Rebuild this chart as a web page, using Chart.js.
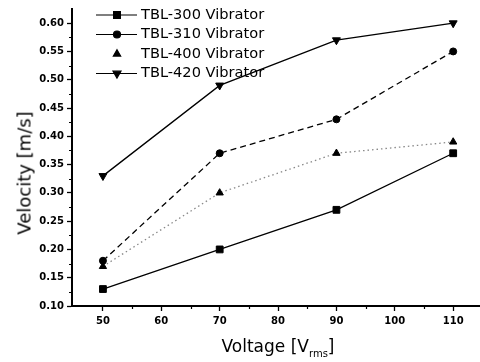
<!DOCTYPE html>
<html>
<head>
<meta charset="utf-8">
<script src="https://cdn.jsdelivr.net/npm/chart.js@4/dist/chart.umd.min.js"></script>
<style>
  html, body { margin: 0; padding: 0; background: #fff; }
  #wrap { position: relative; width: 480px; height: 362px; }
  #chart { position: absolute; left: 0; top: 0; }
  .ttl { position: absolute; font-family: "DejaVu Sans", sans-serif; font-size: 17px; color: #000; white-space: nowrap; }
  #ytitle { left: 24px; top: 173px; font-size: 18px; transform: translate(-50%, -50%) rotate(-90deg); }
  #xtitle { left: 278px; top: 347px; transform: translate(-50%, -50%); }
  #xtitle sub { font-size: 10px; vertical-align: -5px; }
</style>
</head>
<body>
<div id="wrap">
  <canvas id="chart" width="480" height="362"></canvas>
  <div class="ttl" id="ytitle">Velocity [m/s]</div>
  <div class="ttl" id="xtitle">Voltage [V<sub>rms</sub>]</div>
</div>
<script>
(function () {
    "use strict";

    const voltages = [50, 70, 90, 110];
    const tbl300 = [0.13, 0.20, 0.27, 0.37];
    const tbl310 = [0.18, 0.37, 0.43, 0.55];
    const tbl400 = [0.17, 0.30, 0.37, 0.39];
    const tbl420 = [0.33, 0.49, 0.57, 0.60];

    const xTicks = [50, 60, 70, 80, 90, 100, 110];
    const xMinor = [55, 65, 75, 85, 95, 105];
    const yTicks = [0.10, 0.15, 0.20, 0.25, 0.30, 0.35, 0.40, 0.45, 0.50, 0.55, 0.60];
    const yMinor = [0.125, 0.175, 0.225, 0.275, 0.325, 0.375, 0.425, 0.475, 0.525, 0.575];

    const tickFont = { family: "DejaVu Sans", size: 10, weight: "bold" };

    function pts(ys) {
        return ys.map(function (y, i) { return { x: voltages[i], y: y }; });
    }

    function series(label, ys, style, radius, rot, dash, color) {
        return {
            label: label,
            data: pts(ys),
            borderColor: color,
            backgroundColor: "#000",
            pointBackgroundColor: "#000",
            pointBorderColor: "#000",
            pointStyle: style,
            pointRotation: rot,
            pointRadius: radius,
            pointBorderWidth: 1,
            borderWidth: 1.3,
            borderDash: dash,
            tension: 0,
        };
    }

    // legend drawn inside the plot, like the original
    const insideLegend = {
        id: "insideLegend",
        afterDraw(chart) {
            const ctx = chart.ctx;
            const rows = [15, 34.5, 54, 73.5];
            chart.data.datasets.forEach(function (ds, i) {
                const y = rows[i];
                ctx.save();
                ctx.strokeStyle = ds.borderColor;
                ctx.lineWidth = 1.2;
                ctx.setLineDash(i === 1 ? [] : ds.borderDash);
                if (i !== 2) {
                    ctx.beginPath();
                    ctx.moveTo(96, y);
                    ctx.lineTo(137, y);
                    ctx.stroke();
                }
                ctx.setLineDash([]);
                ctx.fillStyle = "#000";
                ctx.strokeStyle = "#000";
                Chart.helpers.drawPoint(ctx, {
                    pointStyle: ds.pointStyle,
                    rotation: ds.pointRotation,
                    radius: ds.pointRadius,
                    borderWidth: 1,
                }, 117, y);
                ctx.font = "14.6px 'DejaVu Sans'";
                ctx.textBaseline = "middle";
                ctx.fillText(ds.label, 141, y);
                ctx.restore();
            });
        },
    };

    const minorTicks = {
        id: "minorTicks",
        afterDraw(chart) {
            const ctx = chart.ctx;
            const xs = chart.scales.x, ys = chart.scales.y;
            const a = chart.chartArea;
            ctx.save();
            ctx.strokeStyle = "#000";
            ctx.lineWidth = 1.2;
            ctx.beginPath();
            xMinor.forEach(function (v) {
                const px = Math.round(xs.getPixelForValue(v)) + 0.5;
                ctx.moveTo(px, a.bottom);
                ctx.lineTo(px, a.bottom + 3);
            });
            yMinor.forEach(function (v) {
                const py = Math.round(ys.getPixelForValue(v)) + 0.5;
                ctx.moveTo(a.left, py);
                ctx.lineTo(a.left - 3, py);
            });
            ctx.stroke();
            // carry the x axis line to the edge, as in the original
            ctx.lineWidth = 2;
            ctx.beginPath();
            ctx.moveTo(a.right - 1, a.bottom);
            ctx.lineTo(chart.width, a.bottom);
            ctx.stroke();
            ctx.restore();
        },
    };

    new Chart(document.getElementById("chart").getContext("2d"), {
        type: "line",
        data: {
            datasets: [
                series("TBL-300 Vibrator", tbl300, "rect", 4.8, 0, [], "#000"),
                series("TBL-310 Vibrator", tbl310, "circle", 3.5, 0, [6, 4], "#000"),
                series("TBL-400 Vibrator", tbl400, "triangle", 4.2, 0, [1.5, 3], "#888"),
                series("TBL-420 Vibrator", tbl420, "triangle", 4.6, 180, [], "#000"),
            ],
        },
        options: {
            responsive: false,
            animation: false,
            layout: { padding: { top: 7, right: 0, left: 0, bottom: 0 } },
            plugins: { legend: { display: false }, tooltip: { enabled: false } },
            scales: {
                x: {
                    type: "linear",
                    min: 44.7,
                    max: 113.6,
                    afterBuildTicks: function (s) { s.ticks = xTicks.map(function (v) { return { value: v }; }); },
                    afterFit: function (s) { s.height = 56; },
                    ticks: { color: "#000", font: tickFont, padding: 4, maxRotation: 0 },
                    grid: { drawOnChartArea: false, tickLength: 5, tickColor: "#000", tickWidth: 1.3 },
                    border: { color: "#000", width: 2 },
                },
                y: {
                    min: 0.10,
                    max: 0.625,
                    afterBuildTicks: function (s) { s.ticks = yTicks.map(function (v) { return { value: v }; }); },
                    afterFit: function (s) { s.width = 72; },
                    ticks: {
                        color: "#000", font: tickFont, padding: 3,
                        callback: function (v) { return v.toFixed(2); },
                    },
                    grid: { drawOnChartArea: false, tickLength: 5, tickColor: "#000", tickWidth: 1.3 },
                    border: { color: "#000", width: 2 },
                },
            },
        },
        plugins: [insideLegend, minorTicks],
    });
})();
</script>
</body>
</html>
